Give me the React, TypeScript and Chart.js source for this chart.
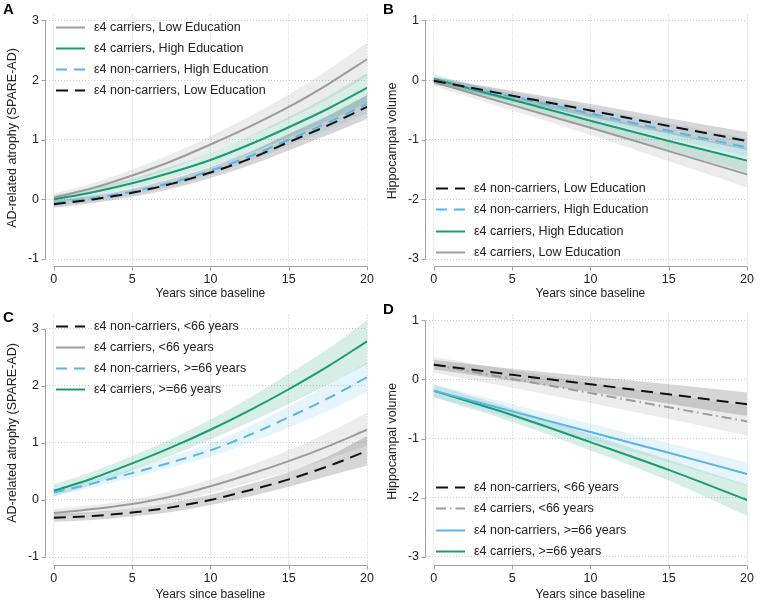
import React, { useEffect, useRef } from 'react';
import { Chart, registerables } from 'chart.js';

Chart.register(...registerables);

const FONT = '"Liberation Sans", Arial, Helvetica, sans-serif';
const TEXT = '#222222';
const GRID = '#cccccc';
const AXIS = '#a0a0a0';

const GREEN = '#1b9a74';
const BLUE = '#5ab4e6';
const GRAY = '#9c9c9c';
const BLACK = '#111111';
const GREEN_BAND = 'rgba(27,158,119,0.18)';
const BLUE_BAND = 'rgba(86,180,233,0.15)';
const GRAY_BAND = 'rgba(150,150,150,0.18)';
const BLACK_BAND = 'rgba(50,50,50,0.2)';

// ---- axes ----
const yearsCurve = [0, 2.5, 5, 7.5, 10, 12.5, 15, 17.5, 20];
const yearsLine = [0, 5, 10, 15, 20];
const xTickValues = [0, 5, 10, 15, 20];
const atrophyTicks = [-1, 0, 1, 2, 3];
const hippoTicks = [-3, -2, -1, 0, 1];
const X_TITLE = 'Years since baseline';
const Y_TITLE_ATROPHY = 'AD-related atrophy (SPARE-AD)';
const Y_TITLE_HIPPO = 'Hippocampal volume';

// ---- labels ----
const L_CAR_LOW = 'ε4 carriers, Low Education';
const L_CAR_HIGH = 'ε4 carriers, High Education';
const L_NON_HIGH = 'ε4 non-carriers, High Education';
const L_NON_LOW = 'ε4 non-carriers, Low Education';
const L_NON_YOUNG = 'ε4 non-carriers, <66 years';
const L_CAR_YOUNG = 'ε4 carriers, <66 years';
const L_NON_OLD = 'ε4 non-carriers, >=66 years';
const L_CAR_OLD = 'ε4 carriers, >=66 years';

// ---- Panel A: SPARE-AD by education ----
const aCarLowEst = [0.03, 0.19, 0.40, 0.64, 0.92, 1.22, 1.55, 1.93, 2.35];
const aCarLowLo = [-0.04, 0.11, 0.30, 0.52, 0.78, 1.05, 1.35, 1.68, 2.06];
const aCarLowHi = [0.10, 0.27, 0.50, 0.76, 1.06, 1.39, 1.76, 2.17, 2.63];
const aCarHighEst = [0.00, 0.12, 0.27, 0.45, 0.66, 0.92, 1.21, 1.52, 1.87];
const aCarHighLo = [-0.07, 0.05, 0.19, 0.35, 0.55, 0.78, 1.04, 1.32, 1.62];
const aCarHighHi = [0.07, 0.19, 0.35, 0.55, 0.78, 1.06, 1.38, 1.73, 2.12];
const aNonHighEst = [-0.07, 0.02, 0.13, 0.28, 0.48, 0.72, 1.00, 1.29, 1.60];
const aNonHighLo = [-0.12, -0.03, 0.08, 0.22, 0.41, 0.64, 0.90, 1.17, 1.45];
const aNonHighHi = [-0.02, 0.07, 0.18, 0.34, 0.55, 0.80, 1.10, 1.41, 1.75];
const aNonLowEst = [-0.08, 0.00, 0.11, 0.26, 0.45, 0.68, 0.96, 1.24, 1.55];
const aNonLowLo = [-0.14, -0.06, 0.04, 0.18, 0.36, 0.57, 0.82, 1.08, 1.35];
const aNonLowHi = [-0.02, 0.06, 0.18, 0.34, 0.54, 0.79, 1.10, 1.40, 1.75];

// ---- Panel B: hippocampal volume by education ----
const bNonLowEst = [-0.01, -0.26, -0.51, -0.77, -1.02];
const bNonLowLo = [-0.07, -0.34, -0.62, -0.90, -1.17];
const bNonLowHi = [0.05, -0.18, -0.40, -0.64, -0.87];
const bNonHighEst = [0.00, -0.28, -0.56, -0.85, -1.13];
const bNonHighLo = [-0.06, -0.36, -0.66, -0.97, -1.28];
const bNonHighHi = [0.06, -0.20, -0.46, -0.72, -0.98];
const bCarHighEst = [0.02, -0.33, -0.68, -1.02, -1.35];
const bCarHighLo = [-0.05, -0.42, -0.80, -1.17, -1.55];
const bCarHighHi = [0.09, -0.24, -0.56, -0.87, -1.15];
const bCarLowEst = [-0.03, -0.42, -0.80, -1.19, -1.58];
const bCarLowLo = [-0.10, -0.51, -0.92, -1.36, -1.80];
const bCarLowHi = [0.04, -0.33, -0.68, -1.02, -1.36];

// ---- Panel C: SPARE-AD by age ----
const cNonYoungEst = [-0.31, -0.28, -0.22, -0.13, 0.00, 0.17, 0.36, 0.59, 0.86];
const cNonYoungLo = [-0.38, -0.35, -0.29, -0.21, -0.09, 0.06, 0.23, 0.42, 0.60];
const cNonYoungHi = [-0.24, -0.21, -0.15, -0.05, 0.09, 0.28, 0.49, 0.76, 1.12];
const cCarYoungEst = [-0.23, -0.16, -0.07, 0.06, 0.24, 0.45, 0.68, 0.94, 1.23];
const cCarYoungLo = [-0.30, -0.23, -0.15, -0.04, 0.12, 0.30, 0.50, 0.72, 0.95];
const cCarYoungHi = [-0.16, -0.09, 0.01, 0.16, 0.36, 0.60, 0.87, 1.18, 1.53];
const cNonOldEst = [0.13, 0.29, 0.47, 0.66, 0.87, 1.14, 1.45, 1.78, 2.15];
const cNonOldLo = [0.07, 0.22, 0.39, 0.57, 0.76, 1.00, 1.27, 1.56, 1.89];
const cNonOldHi = [0.19, 0.36, 0.55, 0.76, 0.99, 1.29, 1.64, 2.01, 2.41];
const cCarOldEst = [0.16, 0.38, 0.64, 0.92, 1.23, 1.57, 1.94, 2.34, 2.78];
const cCarOldLo = [0.06, 0.27, 0.52, 0.78, 1.06, 1.36, 1.68, 2.02, 2.38];
const cCarOldHi = [0.27, 0.50, 0.77, 1.07, 1.41, 1.79, 2.21, 2.65, 3.15];

// ---- Panel D: hippocampal volume by age ----
const dNonYoungEst = [0.25, 0.08, -0.08, -0.25, -0.42];
const dNonYoungLo = [0.17, -0.02, -0.21, -0.41, -0.62];
const dNonYoungHi = [0.33, 0.18, 0.05, -0.08, -0.22];
const dCarYoungEst = [0.25, 0.01, -0.23, -0.47, -0.71];
const dCarYoungLo = [0.12, -0.14, -0.40, -0.67, -0.95];
const dCarYoungHi = [0.38, 0.16, -0.06, -0.26, -0.45];
const dNonOldEst = [-0.19, -0.54, -0.89, -1.24, -1.60];
const dNonOldLo = [-0.30, -0.66, -1.03, -1.40, -1.80];
const dNonOldHi = [-0.08, -0.42, -0.75, -1.08, -1.40];
const dCarOldEst = [-0.19, -0.60, -1.06, -1.53, -2.04];
const dCarOldLo = [-0.30, -0.72, -1.20, -1.71, -2.31];
const dCarOldHi = [-0.09, -0.49, -0.93, -1.36, -1.78];

type Series = {
  label: string; x: number[]; est: number[]; lo: number[]; hi: number[];
  color: string; band: string; dash: number[]; width: number;
};

const DASH = [12, 7];
const DASH_BLUE = [11, 7];
const DASH_DOT = [10, 4, 1.5, 4];

function pts(x: number[], y: number[]) {
  return x.map((v, i) => ({ x: v, y: y[i] }));
}

function buildDatasets(series: Series[]) {
  const lines = series.map((s) => ({
    label: s.label,
    data: pts(s.x, s.est),
    borderColor: s.color,
    backgroundColor: s.color,
    borderWidth: s.width,
    borderDash: s.dash,
    pointRadius: 0,
    fill: false,
    order: 0,
    cubicInterpolationMode: 'monotone',
    isMain: true,
  }));
  const bands: any[] = [];
  series.forEach((s) => {
    bands.push({
      label: s.label + ' (upper)',
      data: pts(s.x, s.hi),
      borderColor: 'rgba(0,0,0,0)',
      borderWidth: 0,
      pointRadius: 0,
      fill: false,
      order: 1,
      cubicInterpolationMode: 'monotone',
    });
    bands.push({
      label: s.label + ' (lower)',
      data: pts(s.x, s.lo),
      borderColor: 'rgba(0,0,0,0)',
      backgroundColor: s.band,
      borderWidth: 0,
      pointRadius: 0,
      fill: '-1',
      order: 1,
      cubicInterpolationMode: 'monotone',
    });
  });
  return [...lines, ...bands];
}

type PanelSpec = {
  letter: string; letterY: number;
  left: number; top: number; width: number; height: number;
  yMin: number; yMax: number; yTicks: number[]; yTitle: string; yTitleY: number;
  xAxisHeight: number; xTitleY: number;
  legendOrder: string[]; legendY: number;
  series: Series[];
};

const decorPlugin = {
  id: 'panelDecor',
  afterDraw(chart: any, _args: any, opts: any) {
    const { ctx, chartArea } = chart;
    const xs = chart.scales.x;
    const ys = chart.scales.y;
    const spec: PanelSpec = opts.spec;
    ctx.save();
    // axis lines
    ctx.strokeStyle = AXIS;
    ctx.lineWidth = 1;
    ctx.setLineDash([]);
    const ax = Math.round(chartArea.left) - 0.5;
    const ay = Math.floor(chartArea.bottom) + 0.5;
    const yTop = ys.getPixelForValue(spec.yTicks[spec.yTicks.length - 1]);
    const yBot = ys.getPixelForValue(spec.yTicks[0]);
    ctx.beginPath();
    ctx.moveTo(ax, yTop);
    ctx.lineTo(ax, yBot);
    spec.yTicks.forEach((t) => {
      const py = Math.round(ys.getPixelForValue(t)) + 0.5;
      ctx.moveTo(ax - 4, py);
      ctx.lineTo(ax, py);
    });
    const x0 = xs.getPixelForValue(xTickValues[0]);
    const x1 = xs.getPixelForValue(xTickValues[xTickValues.length - 1]);
    ctx.moveTo(x0, ay);
    ctx.lineTo(x1, ay);
    xTickValues.forEach((t) => {
      const px = Math.round(xs.getPixelForValue(t)) + 0.5;
      ctx.moveTo(px, ay);
      ctx.lineTo(px, ay + 4);
    });
    ctx.stroke();

    // axis titles
    ctx.fillStyle = TEXT;
    ctx.font = `12px ${FONT}`;
    ctx.textAlign = 'center';
    ctx.textBaseline = 'middle';
    ctx.fillText(X_TITLE, (x0 + x1) / 2, spec.xTitleY);
    ctx.save();
    ctx.translate(12.5, spec.yTitleY);
    ctx.rotate(-Math.PI / 2);
    ctx.font = `12.5px ${FONT}`;
    ctx.fillText(spec.yTitle, 0, 0);
    ctx.restore();

    // panel letter
    ctx.font = `bold 15px ${FONT}`;
    ctx.textAlign = 'left';
    ctx.textBaseline = 'alphabetic';
    ctx.fillStyle = '#000000';
    ctx.fillText(spec.letter, 3, spec.letterY);

    // legend
    ctx.font = `12.5px ${FONT}`;
    ctx.textBaseline = 'middle';
    const datasets = chart.data.datasets;
    spec.legendOrder.forEach((lab, i) => {
      const ds = datasets.find((d: any) => d.label === lab);
      if (!ds) return;
      const cy = Math.round(spec.legendY + i * 21.1) + 0.5;
      ctx.strokeStyle = ds.borderColor;
      ctx.lineWidth = ds.borderWidth;
      ctx.setLineDash(ds.borderDash || []);
      ctx.beginPath();
      ctx.moveTo(56, cy);
      ctx.lineTo(85, cy);
      ctx.stroke();
      ctx.setLineDash([]);
      ctx.fillStyle = TEXT;
      ctx.fillText(lab, 94, cy);
    });
    ctx.restore();
  },
};

function makeConfig(spec: PanelSpec): any {
  const tickFont = { family: FONT, size: 12.5 };
  return {
    type: 'line',
    data: { datasets: buildDatasets(spec.series) },
    plugins: [decorPlugin],
    options: {
      animation: false,
      responsive: false,
      maintainAspectRatio: false,
      events: [],
      layout: { padding: { top: 13, right: 8, left: 0, bottom: 0 } },
      plugins: {
        legend: { display: false },
        tooltip: { enabled: false },
        panelDecor: { spec },
      },
      scales: {
        x: {
          type: 'linear',
          min: -0.5,
          max: 20,
          afterBuildTicks: (s: any) => {
            s.ticks = xTickValues.map((v) => ({ value: v }));
          },
          afterFit: (s: any) => {
            s.height = spec.xAxisHeight;
          },
          grid: { color: GRID, lineWidth: 1, drawTicks: false },
          border: { display: false, dash: [1, 2] },
          ticks: { padding: 6, font: tickFont, color: TEXT, maxRotation: 0, autoSkip: false },
        },
        y: {
          type: 'linear',
          min: spec.yMin,
          max: spec.yMax,
          afterBuildTicks: (s: any) => {
            s.ticks = spec.yTicks.map((v) => ({ value: v }));
          },
          afterFit: (s: any) => {
            s.width = 46;
          },
          grid: { color: GRID, lineWidth: 1, drawTicks: false },
          border: { display: false, dash: [1, 2] },
          ticks: { padding: 7, font: tickFont, color: TEXT, autoSkip: false },
        },
      },
    },
  };
}

const panels: PanelSpec[] = [
  {
    letter: 'A', letterY: 13.5, left: 0, top: 0, width: 380, height: 300,
    yMin: -1.125, yMax: 3.1, yTicks: atrophyTicks, yTitle: Y_TITLE_ATROPHY, yTitleY: 138,
    xAxisHeight: 33.5, xTitleY: 294,
    legendOrder: [L_CAR_LOW, L_CAR_HIGH, L_NON_HIGH, L_NON_LOW], legendY: 26.7,
    series: [
      { label: L_NON_LOW, x: yearsCurve, est: aNonLowEst, lo: aNonLowLo, hi: aNonLowHi, color: BLACK, band: BLACK_BAND, dash: DASH, width: 2 },
      { label: L_NON_HIGH, x: yearsCurve, est: aNonHighEst, lo: aNonHighLo, hi: aNonHighHi, color: BLUE, band: BLUE_BAND, dash: DASH_BLUE, width: 2 },
      { label: L_CAR_HIGH, x: yearsCurve, est: aCarHighEst, lo: aCarHighLo, hi: aCarHighHi, color: GREEN, band: GREEN_BAND, dash: [], width: 2 },
      { label: L_CAR_LOW, x: yearsCurve, est: aCarLowEst, lo: aCarLowLo, hi: aCarLowHi, color: GRAY, band: GRAY_BAND, dash: [], width: 2 },
    ],
  },
  {
    letter: 'B', letterY: 13.5, left: 380, top: 0, width: 380, height: 300,
    yMin: -3.125, yMax: 1.1, yTicks: hippoTicks, yTitle: Y_TITLE_HIPPO, yTitleY: 141,
    xAxisHeight: 33.5, xTitleY: 294,
    legendOrder: [L_NON_LOW, L_NON_HIGH, L_CAR_HIGH, L_CAR_LOW], legendY: 188.3,
    series: [
      { label: L_NON_LOW, x: yearsLine, est: bNonLowEst, lo: bNonLowLo, hi: bNonLowHi, color: BLACK, band: BLACK_BAND, dash: DASH, width: 2 },
      { label: L_NON_HIGH, x: yearsLine, est: bNonHighEst, lo: bNonHighLo, hi: bNonHighHi, color: BLUE, band: BLUE_BAND, dash: DASH_BLUE, width: 2 },
      { label: L_CAR_HIGH, x: yearsLine, est: bCarHighEst, lo: bCarHighLo, hi: bCarHighHi, color: GREEN, band: GREEN_BAND, dash: [], width: 2 },
      { label: L_CAR_LOW, x: yearsLine, est: bCarLowEst, lo: bCarLowLo, hi: bCarLowHi, color: GRAY, band: GRAY_BAND, dash: [], width: 2 },
    ],
  },
  {
    letter: 'C', letterY: 21.7, left: 0, top: 300, width: 380, height: 309,
    yMin: -1.14, yMax: 3.25, yTicks: atrophyTicks, yTitle: Y_TITLE_ATROPHY, yTitleY: 133,
    xAxisHeight: 44, xTitleY: 295,
    legendOrder: [L_NON_YOUNG, L_CAR_YOUNG, L_NON_OLD, L_CAR_OLD], legendY: 26,
    series: [
      { label: L_NON_YOUNG, x: yearsCurve, est: cNonYoungEst, lo: cNonYoungLo, hi: cNonYoungHi, color: BLACK, band: BLACK_BAND, dash: DASH, width: 2 },
      { label: L_CAR_YOUNG, x: yearsCurve, est: cCarYoungEst, lo: cCarYoungLo, hi: cCarYoungHi, color: GRAY, band: GRAY_BAND, dash: [], width: 2 },
      { label: L_NON_OLD, x: yearsCurve, est: cNonOldEst, lo: cNonOldLo, hi: cNonOldHi, color: BLUE, band: BLUE_BAND, dash: DASH_BLUE, width: 2 },
      { label: L_CAR_OLD, x: yearsCurve, est: cCarOldEst, lo: cCarOldLo, hi: cCarOldHi, color: GREEN, band: GREEN_BAND, dash: [], width: 2 },
    ],
  },
  {
    letter: 'D', letterY: 14, left: 380, top: 300, width: 380, height: 309,
    yMin: -3.14, yMax: 1.1, yTicks: hippoTicks, yTitle: Y_TITLE_HIPPO, yTitleY: 141.5,
    xAxisHeight: 44, xTitleY: 295,
    legendOrder: [L_NON_YOUNG, L_CAR_YOUNG, L_NON_OLD, L_CAR_OLD], legendY: 187.3,
    series: [
      { label: L_NON_YOUNG, x: yearsLine, est: dNonYoungEst, lo: dNonYoungLo, hi: dNonYoungHi, color: BLACK, band: BLACK_BAND, dash: DASH, width: 2 },
      { label: L_CAR_YOUNG, x: yearsLine, est: dCarYoungEst, lo: dCarYoungLo, hi: dCarYoungHi, color: GRAY, band: GRAY_BAND, dash: DASH_DOT, width: 2 },
      { label: L_NON_OLD, x: yearsLine, est: dNonOldEst, lo: dNonOldLo, hi: dNonOldHi, color: BLUE, band: BLUE_BAND, dash: [], width: 2 },
      { label: L_CAR_OLD, x: yearsLine, est: dCarOldEst, lo: dCarOldLo, hi: dCarOldHi, color: GREEN, band: GREEN_BAND, dash: [], width: 2 },
    ],
  },
];

function Panel({ spec }: { spec: PanelSpec }) {
  const ref = useRef<HTMLCanvasElement>(null);
  useEffect(() => {
    const chart = new Chart(ref.current as HTMLCanvasElement, makeConfig(spec));
    return () => chart.destroy();
  }, [spec]);
  return (
    <canvas
      ref={ref}
      width={spec.width}
      height={spec.height}
      style={{ position: 'absolute', left: spec.left, top: spec.top, width: spec.width, height: spec.height }}
    />
  );
}

export default function App() {
  return (
    <div style={{ position: 'absolute', left: 0, top: 0, width: 760, height: 609, background: '#ffffff', overflow: 'hidden' }}>
      {panels.map((p) => (
        <Panel key={p.letter} spec={p} />
      ))}
    </div>
  );
}
